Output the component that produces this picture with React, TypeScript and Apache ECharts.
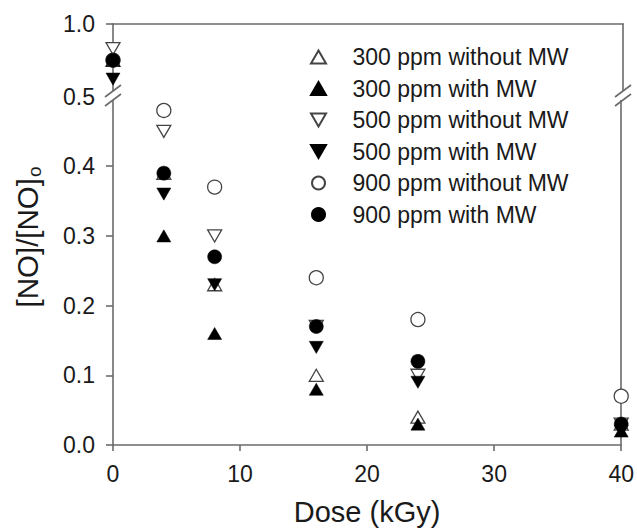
import React, { useEffect, useRef } from "react";
import * as echarts from "echarts";

// Dose (kGy)
const doses = [0, 4, 8, 16, 24, 40];
// [NO]/[NO]o values
const ppm300Without = [0.75, 0.39, 0.23, 0.1, 0.04, 0.03];
const ppm300With = [0.75, 0.3, 0.16, 0.08, 0.03, 0.02];
const ppm500Without = [0.83, 0.45, 0.3, 0.17, 0.1, 0.03];
const ppm500With = [0.62, 0.36, 0.23, 0.14, 0.09, 0.02];
const ppm900Without = [0.75, 0.48, 0.37, 0.24, 0.18, 0.07];
const ppm900With = [0.75, 0.39, 0.27, 0.17, 0.12, 0.03];

const seriesNames = [
  "300 ppm without MW",
  "300 ppm with MW",
  "500 ppm without MW",
  "500 ppm with MW",
  "900 ppm without MW",
  "900 ppm with MW",
];
const seriesValues = [ppm300Without, ppm300With, ppm500Without, ppm500With, ppm900Without, ppm900With];

const UP = "path://M5,0 L10,8.66 L0,8.66 Z";
const DOWN = "path://M0,0 L10,0 L5,8.66 Z";
const seriesSymbols = [UP, UP, DOWN, DOWN, "circle", "circle"];
const seriesFilled = [false, true, false, true, false, true];

const BREAK_VALUE = 0.5;
const FONT = 'Arial, "Liberation Sans", Helvetica, sans-serif';
const AXIS_COLOR = "#6b6b6b";
const TEXT_COLOR = "#1a1a1a";

export default function App() {
  const ref = useRef<HTMLDivElement>(null);

  useEffect(() => {
    if (!ref.current) return;
    const chart = echarts.init(ref.current, null, { renderer: "svg" });
    const lineStyle = { color: AXIS_COLOR, width: 1.6 };

    const series: any[] = [];
    seriesNames.forEach((name, i) => {
      const pts = doses.map((d, j) => [d, seriesValues[i][j]]);
      const itemStyle = seriesFilled[i]
        ? { color: "#000", borderColor: "#000", borderWidth: 0.5, opacity: 1 }
        : { color: "#fff", borderColor: "#444", borderWidth: 1.3, opacity: 1 };
      const common = {
        type: "scatter",
        name,
        symbol: seriesSymbols[i],
        symbolSize: 14,
        symbolKeepAspect: true,
        itemStyle,
        emphasis: { disabled: true },
        z: 3,
      };
      series.push({
        ...common,
        xAxisIndex: 0,
        yAxisIndex: 0,
        data: pts.filter((p) => p[1] > BREAK_VALUE),
      });
      series.push({
        ...common,
        xAxisIndex: 1,
        yAxisIndex: 2,
        data: pts.filter((p) => p[1] <= BREAK_VALUE),
      });
    });

    const labelStyle = { fontSize: 23, color: TEXT_COLOR, fontFamily: FONT };

    const breakMarks = (x: number) => [
      { type: "rect", z: 50, shape: { x: x - 9, y: 91, width: 13, height: 9 }, style: { fill: "#fff" } },
      { type: "line", z: 51, shape: { x1: x - 8, y1: 97, x2: x + 8, y2: 85 }, style: { stroke: AXIS_COLOR, lineWidth: 1.6 } },
      { type: "line", z: 51, shape: { x1: x - 8, y1: 106, x2: x + 8, y2: 94 }, style: { stroke: AXIS_COLOR, lineWidth: 1.6 } },
    ];

    const option: any = {
      animation: false,
      backgroundColor: "#fff",
      textStyle: { fontFamily: FONT },
      grid: [
        { left: 113, top: 24, width: 510, height: 72.5 },
        { left: 113, top: 96.5, width: 510, height: 351.5 },
      ],
      xAxis: [
        {
          gridIndex: 0,
          type: "value",
          position: "top",
          min: 0,
          max: 40,
          axisLine: { show: true, onZero: false, lineStyle },
          axisTick: { show: false },
          axisLabel: { show: false },
          splitLine: { show: false },
        },
        {
          gridIndex: 1,
          type: "value",
          position: "bottom",
          min: 0,
          max: 40,
          interval: 10,
          axisLine: { show: true, onZero: false, lineStyle },
          axisTick: { show: true, inside: false, length: 6, lineStyle },
          axisLabel: { ...labelStyle, margin: 17 },
          splitLine: { show: false },
          name: "Dose (kGy)",
          nameLocation: "middle",
          nameGap: 52,
          nameTextStyle: { fontSize: 29, color: TEXT_COLOR, fontFamily: FONT },
        },
      ],
      yAxis: [
        {
          gridIndex: 0,
          type: "value",
          position: "left",
          min: 0.5,
          max: 1.0,
          interval: 0.5,
          axisLine: { show: true, onZero: false, lineStyle },
          axisTick: { show: true, inside: false, length: 7, lineStyle },
          axisLabel: { ...labelStyle, margin: 18, formatter: (v: number) => v.toFixed(1) },
          splitLine: { show: false },
        },
        {
          gridIndex: 0,
          type: "value",
          position: "right",
          min: 0.5,
          max: 1.0,
          axisLine: { show: true, onZero: false, lineStyle },
          axisTick: { show: false },
          axisLabel: { show: false },
          splitLine: { show: false },
        },
        {
          gridIndex: 1,
          type: "value",
          position: "left",
          min: 0,
          max: 0.5,
          interval: 0.1,
          axisLine: { show: true, onZero: false, lineStyle },
          axisTick: { show: true, inside: false, length: 7, lineStyle },
          axisLabel: { ...labelStyle, margin: 18, showMaxLabel: false, formatter: (v: number) => v.toFixed(1) },
          splitLine: { show: false },
        },
        {
          gridIndex: 1,
          type: "value",
          position: "right",
          min: 0,
          max: 0.5,
          axisLine: { show: true, onZero: false, lineStyle },
          axisTick: { show: false },
          axisLabel: { show: false },
          splitLine: { show: false },
        },
      ],
      legend: {
        data: seriesNames,
        orient: "vertical",
        left: 310,
        top: 45.5,
        padding: 0,
        itemWidth: 58,
        itemHeight: 13,
        itemGap: 8.5,
        selectedMode: false,
        symbolKeepAspect: true,
        textStyle: { fontSize: 23, lineHeight: 23, color: TEXT_COLOR, fontFamily: FONT },
      },
      graphic: [
        ...breakMarks(113),
        ...breakMarks(623),
        {
          type: "text",
          z: 50,
          x: 28,
          y: 237,
          rotation: Math.PI / 2,
          style: {
            text: "{a|[NO]/[NO]}{b|o}",
            align: "center",
            verticalAlign: "middle",
            rich: {
              a: { fontSize: 29.5, fontFamily: FONT, fill: TEXT_COLOR, lineHeight: 31, verticalAlign: "top" },
              b: { fontSize: 19, fontFamily: FONT, fill: TEXT_COLOR, lineHeight: 20, padding: [17, 0, 0, 1], verticalAlign: "bottom" },
            },
          },
        },
      ],
      series,
    };

    chart.setOption(option);
    return () => chart.dispose();
  }, []);

  return (
    <div
      ref={ref}
      style={{ position: "absolute", left: 0, top: 0, width: 637, height: 531, background: "#fff" }}
    />
  );
}
